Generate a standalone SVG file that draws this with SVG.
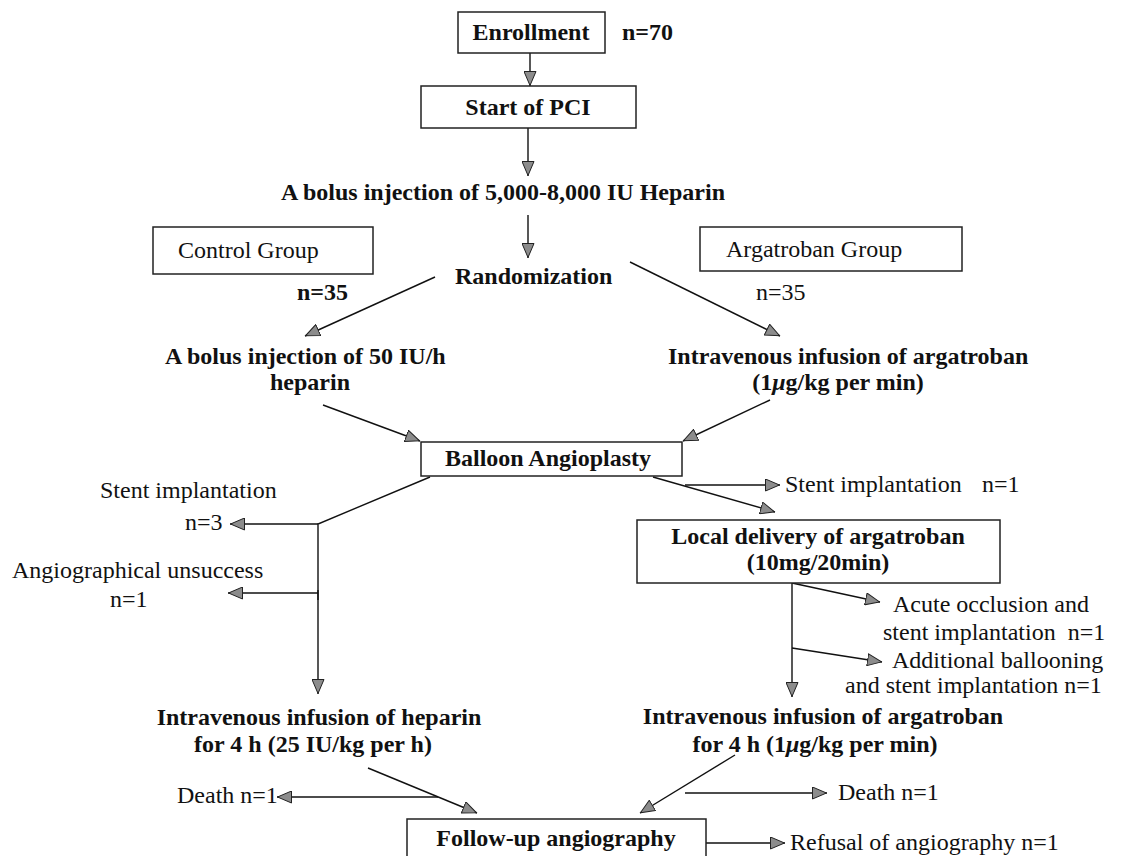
<svg xmlns="http://www.w3.org/2000/svg" width="1148" height="856" viewBox="0 0 1148 856">
<style>
.bg{fill:#fff}
.box{fill:#fff;stroke:#222;stroke-width:1.5}
.t{font-family:"Liberation Serif","Times New Roman",serif;font-size:24px;fill:#111}
.b{font-weight:bold}
.m{text-anchor:middle}
.ln{fill:none;stroke:#111;stroke-width:1.4}
.ar{marker-end:url(#ah)}
</style>
<defs>
<marker id="ah" viewBox="0 0 15 13" refX="15" refY="6.5" markerWidth="15" markerHeight="13" markerUnits="userSpaceOnUse" orient="auto">
<path d="M0.5,0.5 L14.5,6.5 L0.5,12.5 z" fill="#8c8c8c" stroke="#222" stroke-width="1"/>
</marker>
</defs>
<rect class="bg" x="0" y="0" width="1148" height="856"/>

<g id="connectors">
<line class="ln ar" x1="530" y1="53" x2="530" y2="86"/>
<line class="ln ar" x1="528" y1="128" x2="528" y2="176"/>
<line class="ln ar" x1="528" y1="215" x2="528" y2="258"/>
<line class="ln ar" x1="435" y1="277" x2="305" y2="336"/>
<line class="ln ar" x1="630" y1="262" x2="780" y2="336"/>
<line class="ln ar" x1="323" y1="405" x2="420" y2="441"/>
<line class="ln ar" x1="770" y1="400" x2="683" y2="441"/>
<polyline class="ln" points="430,477 318,524 318,600"/>
<line class="ln ar" x1="318" y1="524" x2="230" y2="524"/>
<line class="ln ar" x1="318" y1="593" x2="228" y2="593"/>
<line class="ln ar" x1="318" y1="590" x2="318" y2="694"/>
<line class="ln ar" x1="653" y1="477" x2="775" y2="512"/>
<line class="ln ar" x1="685" y1="485" x2="780" y2="485"/>
<line class="ln ar" x1="792" y1="583" x2="792" y2="697"/>
<line class="ln ar" x1="792" y1="583" x2="880" y2="602"/>
<line class="ln ar" x1="792" y1="648" x2="882" y2="662"/>
<line class="ln ar" x1="368" y1="768" x2="477" y2="813"/>
<line class="ln ar" x1="438" y1="797" x2="277" y2="797"/>
<line class="ln ar" x1="735" y1="755" x2="640" y2="813"/>
<line class="ln ar" x1="685" y1="793" x2="827" y2="793"/>
<line class="ln ar" x1="706" y1="843" x2="785" y2="843"/>
</g>

<g id="enrollment">
<rect class="box" x="458" y="12" width="147" height="41"/>
<text class="t b m" x="531" y="40">Enrollment</text>
<text class="t b" x="622" y="40">n=70</text>
</g>
<g id="start-pci">
<rect class="box" x="421" y="86" width="215" height="42"/>
<text class="t b m" x="528" y="115">Start of PCI</text>
</g>
<g id="bolus-heparin">
<text class="t b m" x="503" y="200">A bolus injection of 5,000-8,000 IU Heparin</text>
</g>
<g id="control-group">
<rect class="box" x="153" y="227" width="220" height="47"/>
<text class="t" x="178" y="258">Control Group</text>
<text class="t b" x="297" y="300">n=35</text>
</g>
<g id="randomization">
<text class="t b" x="455" y="284">Randomization</text>
</g>
<g id="argatroban-group">
<rect class="box" x="700" y="227" width="262" height="44"/>
<text class="t" x="726" y="257">Argatroban Group</text>
<text class="t" x="756" y="300">n=35</text>
</g>
<g id="bolus-50">
<text class="t b" x="165" y="364">A bolus injection of 50 IU/h</text>
<text class="t b m" x="310" y="390">heparin</text>
</g>
<g id="iv-argatroban">
<text class="t b" x="668" y="364">Intravenous infusion of argatroban</text>
<text class="t b m" x="838" y="390">(1<tspan font-style="italic">μ</tspan>g/kg per min)</text>
</g>
<g id="balloon">
<rect class="box" x="421" y="442" width="261" height="34"/>
<text class="t b m" x="548" y="466">Balloon Angioplasty</text>
</g>
<g id="stent-left">
<text class="t" x="100" y="498">Stent implantation</text>
<text class="t" x="185" y="530">n=3</text>
</g>
<g id="unsuccess">
<text class="t" x="12" y="578">Angiographical unsuccess</text>
<text class="t" x="110" y="607">n=1</text>
</g>
<g id="stent-right">
<text class="t" x="785" y="492">Stent implantation</text>
<text class="t" x="982" y="492">n=1</text>
</g>
<g id="local-delivery">
<rect class="box" x="637" y="520" width="363" height="63"/>
<text class="t b m" x="818" y="544">Local delivery of argatroban</text>
<text class="t b m" x="818" y="570">(10mg/20min)</text>
</g>
<g id="acute-occlusion">
<text class="t" x="893" y="612">Acute occlusion and</text>
<text class="t" x="883" y="640" xml:space="preserve">stent implantation  n=1</text>
</g>
<g id="additional-ballooning">
<text class="t" x="892" y="668">Additional ballooning</text>
<text class="t" x="845" y="693">and stent implantation n=1</text>
</g>
<g id="iv-heparin-4h">
<text class="t b m" x="319" y="725">Intravenous infusion of heparin</text>
<text class="t b m" x="313" y="752">for 4 h (25 IU/kg per h)</text>
</g>
<g id="iv-argatroban-4h">
<text class="t b m" x="823" y="724">Intravenous infusion of argatroban</text>
<text class="t b m" x="815" y="752">for 4 h (1<tspan font-style="italic">μ</tspan>g/kg per min)</text>
</g>
<g id="death-left">
<text class="t" x="177" y="803">Death n=1</text>
</g>
<g id="death-right">
<text class="t" x="838" y="800">Death n=1</text>
</g>
<g id="follow-up">
<rect class="box" x="407" y="819" width="299" height="60"/>
<text class="t b m" x="556" y="846">Follow-up angiography</text>
</g>
<g id="refusal">
<text class="t" x="790" y="850">Refusal of angiography n=1</text>
</g>
</svg>
